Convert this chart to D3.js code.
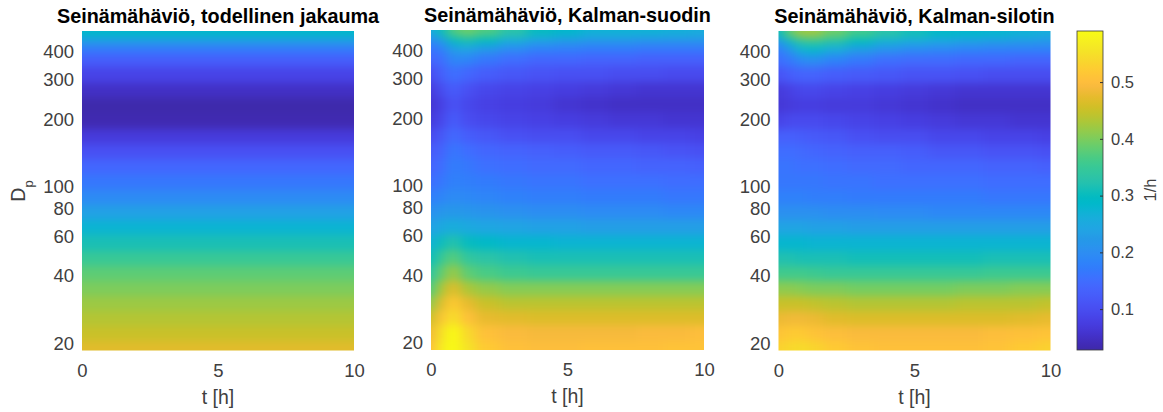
<!DOCTYPE html>
<html>
<head>
<meta charset="utf-8">
<script src="https://cdn.jsdelivr.net/npm/d3@7"></script>
<style>
  body { margin: 0; background: #fff; }
  svg { display: block; }
  text { font-family: "Liberation Sans", Arial, sans-serif; }
  .axis path, .axis line { display: none; }
  .axis text { fill: #404040; }
</style>
</head>
<body>
<script>
// Particle sizes (rows) and times (columns) of the estimate grids
const diameters = [19, 22, 26, 30, 35, 41, 48, 56, 66, 77, 90, 105, 123, 144, 168, 197, 230, 270, 316, 370, 410, 445, 480];
const times = [0, 0.4, 0.8, 1.3, 2, 3, 4, 5, 6, 7, 8, 9, 10];
const trueTimes = [5];

const yTicks = [20, 40, 60, 80, 100, 200, 300, 400];
const xTicks = [0, 5, 10];
const colorTicks = [0.1, 0.2, 0.3, 0.4, 0.5];

// Wall loss 1/h, one row per diameter
const lossTrue = [[.47], [.45], [.435], [.42], [.40], [.38], [.35], [.315], [.275], [.235], [.195], [.165], [.14], [.105], [.07], [.035], [.03], [.05], [.085], [.125], [.165], [.22], [.285]];

const lossFilter = [
  [.50, .57, .60, .555, .52, .505, .50, .50, .505, .505, .505, .51, .51],
  [.485, .55, .60, .54, .505, .495, .49, .49, .49, .49, .495, .495, .50],
  [.45, .51, .55, .505, .475, .47, .465, .465, .465, .465, .465, .465, .465],
  [.41, .47, .52, .475, .45, .44, .44, .44, .44, .44, .44, .44, .44],
  [.37, .43, .47, .43, .415, .405, .405, .405, .405, .405, .405, .405, .405],
  [.335, .385, .42, .38, .365, .355, .35, .35, .35, .35, .35, .35, .35],
  [.305, .35, .375, .34, .33, .32, .315, .315, .315, .315, .315, .315, .315],
  [.27, .305, .325, .30, .29, .28, .28, .275, .275, .275, .275, .275, .275],
  [.235, .25, .26, .25, .245, .24, .235, .235, .23, .23, .23, .23, .23],
  [.205, .215, .22, .215, .21, .205, .20, .20, .195, .195, .195, .19, .19],
  [.175, .185, .195, .19, .185, .18, .175, .175, .17, .17, .17, .165, .165],
  [.15, .165, .18, .175, .17, .165, .16, .16, .155, .155, .155, .15, .15],
  [.135, .15, .175, .165, .155, .15, .145, .145, .14, .14, .135, .135, .13],
  [.12, .135, .165, .15, .14, .135, .13, .125, .12, .12, .115, .11, .105],
  [.095, .115, .145, .125, .115, .105, .10, .10, .09, .09, .085, .085, .08],
  [.07, .09, .125, .10, .09, .085, .08, .075, .07, .065, .065, .06, .06],
  [.06, .08, .11, .09, .08, .075, .07, .06, .055, .05, .05, .05, .05],
  [.07, .10, .125, .105, .09, .085, .08, .075, .07, .065, .06, .06, .06],
  [.10, .13, .155, .14, .125, .115, .11, .105, .105, .10, .10, .095, .095],
  [.14, .15, .19, .185, .165, .15, .14, .14, .135, .135, .13, .13, .13],
  [.16, .175, .23, .24, .22, .195, .18, .175, .17, .17, .165, .165, .165],
  [.19, .22, .29, .31, .29, .26, .235, .225, .215, .215, .21, .21, .21],
  [.25, .30, .37, .39, .37, .33, .30, .285, .27, .27, .27, .265, .26]
];

const lossSmoother = [
  [.53, .54, .545, .535, .52, .51, .505, .505, .505, .505, .51, .52, .53],
  [.51, .52, .52, .51, .50, .495, .495, .495, .495, .495, .50, .505, .51],
  [.48, .485, .485, .48, .47, .465, .465, .465, .465, .465, .465, .47, .475],
  [.45, .45, .45, .445, .44, .435, .435, .435, .435, .44, .44, .44, .445],
  [.41, .41, .405, .40, .40, .395, .395, .395, .395, .40, .40, .405, .405],
  [.36, .36, .36, .355, .35, .35, .35, .35, .35, .35, .355, .355, .355],
  [.32, .32, .315, .315, .315, .31, .31, .31, .31, .31, .315, .315, .315],
  [.28, .28, .28, .275, .275, .275, .275, .275, .275, .275, .275, .275, .275],
  [.24, .24, .24, .235, .235, .23, .23, .23, .23, .23, .23, .23, .23],
  [.205, .205, .205, .205, .20, .20, .195, .195, .19, .19, .19, .19, .19],
  [.18, .18, .18, .175, .175, .17, .17, .17, .17, .17, .165, .165, .165],
  [.165, .165, .165, .165, .16, .16, .155, .155, .155, .155, .15, .15, .15],
  [.16, .16, .155, .155, .15, .145, .145, .14, .14, .14, .135, .135, .13],
  [.15, .15, .145, .14, .135, .13, .13, .125, .115, .115, .11, .11, .105],
  [.13, .13, .125, .12, .115, .105, .10, .10, .09, .09, .085, .085, .08],
  [.085, .095, .095, .095, .09, .085, .08, .075, .07, .065, .065, .06, .06],
  [.065, .07, .075, .075, .07, .07, .065, .06, .055, .05, .05, .05, .05],
  [.07, .08, .09, .09, .085, .08, .075, .07, .065, .06, .06, .06, .06],
  [.11, .125, .135, .135, .125, .12, .115, .11, .11, .105, .10, .10, .10],
  [.15, .165, .19, .20, .18, .165, .15, .145, .145, .14, .14, .135, .135],
  [.17, .21, .27, .28, .255, .225, .205, .19, .185, .18, .175, .175, .175],
  [.21, .28, .33, .34, .32, .29, .265, .25, .24, .23, .225, .22, .215],
  [.30, .38, .42, .42, .39, .36, .33, .31, .29, .285, .28, .27, .26]
];

const titles = ['Seinämähäviö, todellinen jakauma', 'Seinämähäviö, Kalman-suodin', 'Seinämähäviö, Kalman-silotin'];

// MATLAB parula
const parula = [
  '#3e2aa8', '#402ab4', '#422ebf', '#4332cb', '#4537d5', '#463cde', '#4741e5', '#4747eb',
  '#484df0', '#4852f4', '#4758f8', '#465efb', '#4563fd', '#4269fe', '#3e6fff', '#3875fe',
  '#327bfc', '#2f81fa', '#2d87f7', '#2d8cf3', '#2b91ef', '#2796eb', '#2599e7', '#23a0e5',
  '#20a5e3', '#1ca9df', '#18addb', '#11b1d6', '#08b5d0', '#01b8ca', '#02bac3', '#0bbdbc',
  '#18bfb6', '#24c1ae', '#2cc3a7', '#31c69f', '#37c897', '#3fca8e', '#4acb84', '#57cc7a',
  '#64cd6f', '#72cd64', '#81cc59', '#8fcb4e', '#9dc943', '#abc739', '#b9c431', '#c5c22a',
  '#d1bf27', '#dcbd29', '#e6bb2d', '#efba36', '#f8ba3d', '#febe3c', '#fec338', '#fec934',
  '#fccf30', '#f9d62d', '#f7dc2a', '#f5e327', '#f5e924', '#f6ef20', '#f7f51b', '#f9fb14'
];

const width = 1163;
const height = 412;
const colorDomain = [0.028, 0.59];

const svg = d3.select('body').append('svg')
    .attr('width', width)
    .attr('height', height);

const defs = svg.append('defs');

defs.append('filter')
    .attr('id', 'smooth')
    .attr('color-interpolation-filters', 'sRGB')
    .append('feGaussianBlur')
    .attr('stdDeviation', '6 4');

const colorScale = d3.scaleSequential(d3.piecewise(d3.interpolateRgb, parula)).domain(colorDomain).clamp(true);

// Cell edges are midpoints between neighbouring grid values
function cellEdges(values, scale, mid) {
    const edges = [];
    for (let i = 0; i < values.length - 1; i++) {
        edges.push(scale(mid(values[i], values[i + 1])));
    }
    return edges;
}

function drawPanel(panel, i) {
    const w = panel.right - panel.left;
    const h = panel.bottom - panel.top;
    const g = svg.append('g').attr('transform', `translate(${panel.left},${panel.top})`);

    const x = d3.scaleLinear().domain([0, 10]).range([0, w]);
    const y = d3.scaleLog().domain([18.6, 496]).range([h, 0]);

    const xEdges = cellEdges(panel.t, x, (a, b) => (a + b) / 2);
    const yEdges = cellEdges(diameters, y, (a, b) => Math.sqrt(a * b));
    const over = 24; // outer cells run past the frame so the blur doesn't fade at the edge

    const cells = [];
    panel.values.forEach((row, r) => {
        row.forEach((value, c) => {
            cells.push({ r, c, value });
        });
    });

    defs.append('clipPath').attr('id', `frame-${i}`)
        .append('rect').attr('width', w).attr('height', h);

    g.append('g')
        .attr('clip-path', `url(#frame-${i})`)
        .append('g')
        .attr('filter', 'url(#smooth)')
        .selectAll('rect')
        .data(cells)
        .join('rect')
        .attr('shape-rendering', 'crispEdges')
        .attr('x', d => d.c === 0 ? -over : xEdges[d.c - 1])
        .attr('width', d => (d.c === panel.t.length - 1 ? w + over : xEdges[d.c]) - (d.c === 0 ? -over : xEdges[d.c - 1]))
        .attr('y', d => d.r === diameters.length - 1 ? -over : yEdges[d.r])
        .attr('height', d => (d.r === 0 ? h + over : yEdges[d.r - 1]) - (d.r === diameters.length - 1 ? -over : yEdges[d.r]))
        .attr('fill', d => colorScale(d.value));

    g.append('g')
        .attr('class', 'axis')
        .attr('transform', `translate(0,${h})`)
        .call(d3.axisBottom(x).tickValues(xTicks).tickFormat(d3.format('d')).tickSize(0).tickPadding(13))
        .selectAll('text')
        .style('font-size', '18.5px');

    g.append('g')
        .attr('class', 'axis')
        .call(d3.axisLeft(y).tickValues(yTicks).tickFormat(d3.format('d')).tickSize(0).tickPadding(8))
        .selectAll('text')
        .style('font-size', '18.5px');

    g.append('text')
        .attr('x', w / 2)
        .attr('y', -8)
        .attr('text-anchor', 'middle')
        .style('font-size', '19.8px')
        .style('font-weight', 'bold')
        .attr('fill', '#000')
        .text(panel.title);

    g.append('text')
        .attr('x', w / 2)
        .attr('y', 53)
        .attr('transform', `translate(0,${h})`)
        .attr('text-anchor', 'middle')
        .style('font-size', '19.5px')
        .attr('fill', '#404040')
        .text('t [h]');
}

const panels = [
    { left: 82, right: 354, top: 31, bottom: 350.5, t: trueTimes, values: lossTrue, title: titles[0] },
    { left: 431, right: 704, top: 30, bottom: 350, t: times, values: lossFilter, title: titles[1] },
    { left: 778.5, right: 1050.5, top: 31, bottom: 350.5, t: times, values: lossSmoother, title: titles[2] }
];
panels.forEach(drawPanel);

// y label with subscript
const yLabel = svg.append('text')
    .attr('transform', 'translate(25,191) rotate(-90)')
    .attr('text-anchor', 'middle')
    .style('font-size', '19.5px')
    .attr('fill', '#404040');
yLabel.append('tspan').text('D');
yLabel.append('tspan').attr('dy', 8).style('font-size', '13px').text('p');

// Colorbar
const barY = d3.scaleLinear().domain(colorDomain).range([350, 31]);

const gradient = defs.append('linearGradient')
    .attr('id', 'parula')
    .attr('x1', 0).attr('x2', 0).attr('y1', 1).attr('y2', 0);
gradient.selectAll('stop')
    .data(parula)
    .join('stop')
    .attr('offset', (d, i) => i / (parula.length - 1))
    .attr('stop-color', d => d);

svg.append('rect')
    .attr('x', 1077)
    .attr('y', barY(colorDomain[1]))
    .attr('width', 26)
    .attr('height', barY(colorDomain[0]) - barY(colorDomain[1]))
    .attr('fill', 'url(#parula)')
    .attr('stroke', '#3a3a3a')
    .attr('stroke-width', 0.8);

const barAxis = svg.append('g')
    .attr('transform', 'translate(1103,0)')
    .call(d3.axisRight(barY).tickValues(colorTicks).tickFormat(d3.format('.1f')).tickSize(0).tickPadding(8));
barAxis.select('.domain').remove();
barAxis.selectAll('text').attr('fill', '#404040').style('font-size', '16.5px');
barAxis.selectAll('line')
    .attr('x1', -3).attr('x2', 0)
    .attr('stroke', '#303030');

svg.append('text')
    .attr('transform', 'translate(1156,190) rotate(-90)')
    .attr('text-anchor', 'middle')
    .style('font-size', '16.5px')
    .attr('fill', '#404040')
    .text('1/h');
</script>
</body>
</html>
